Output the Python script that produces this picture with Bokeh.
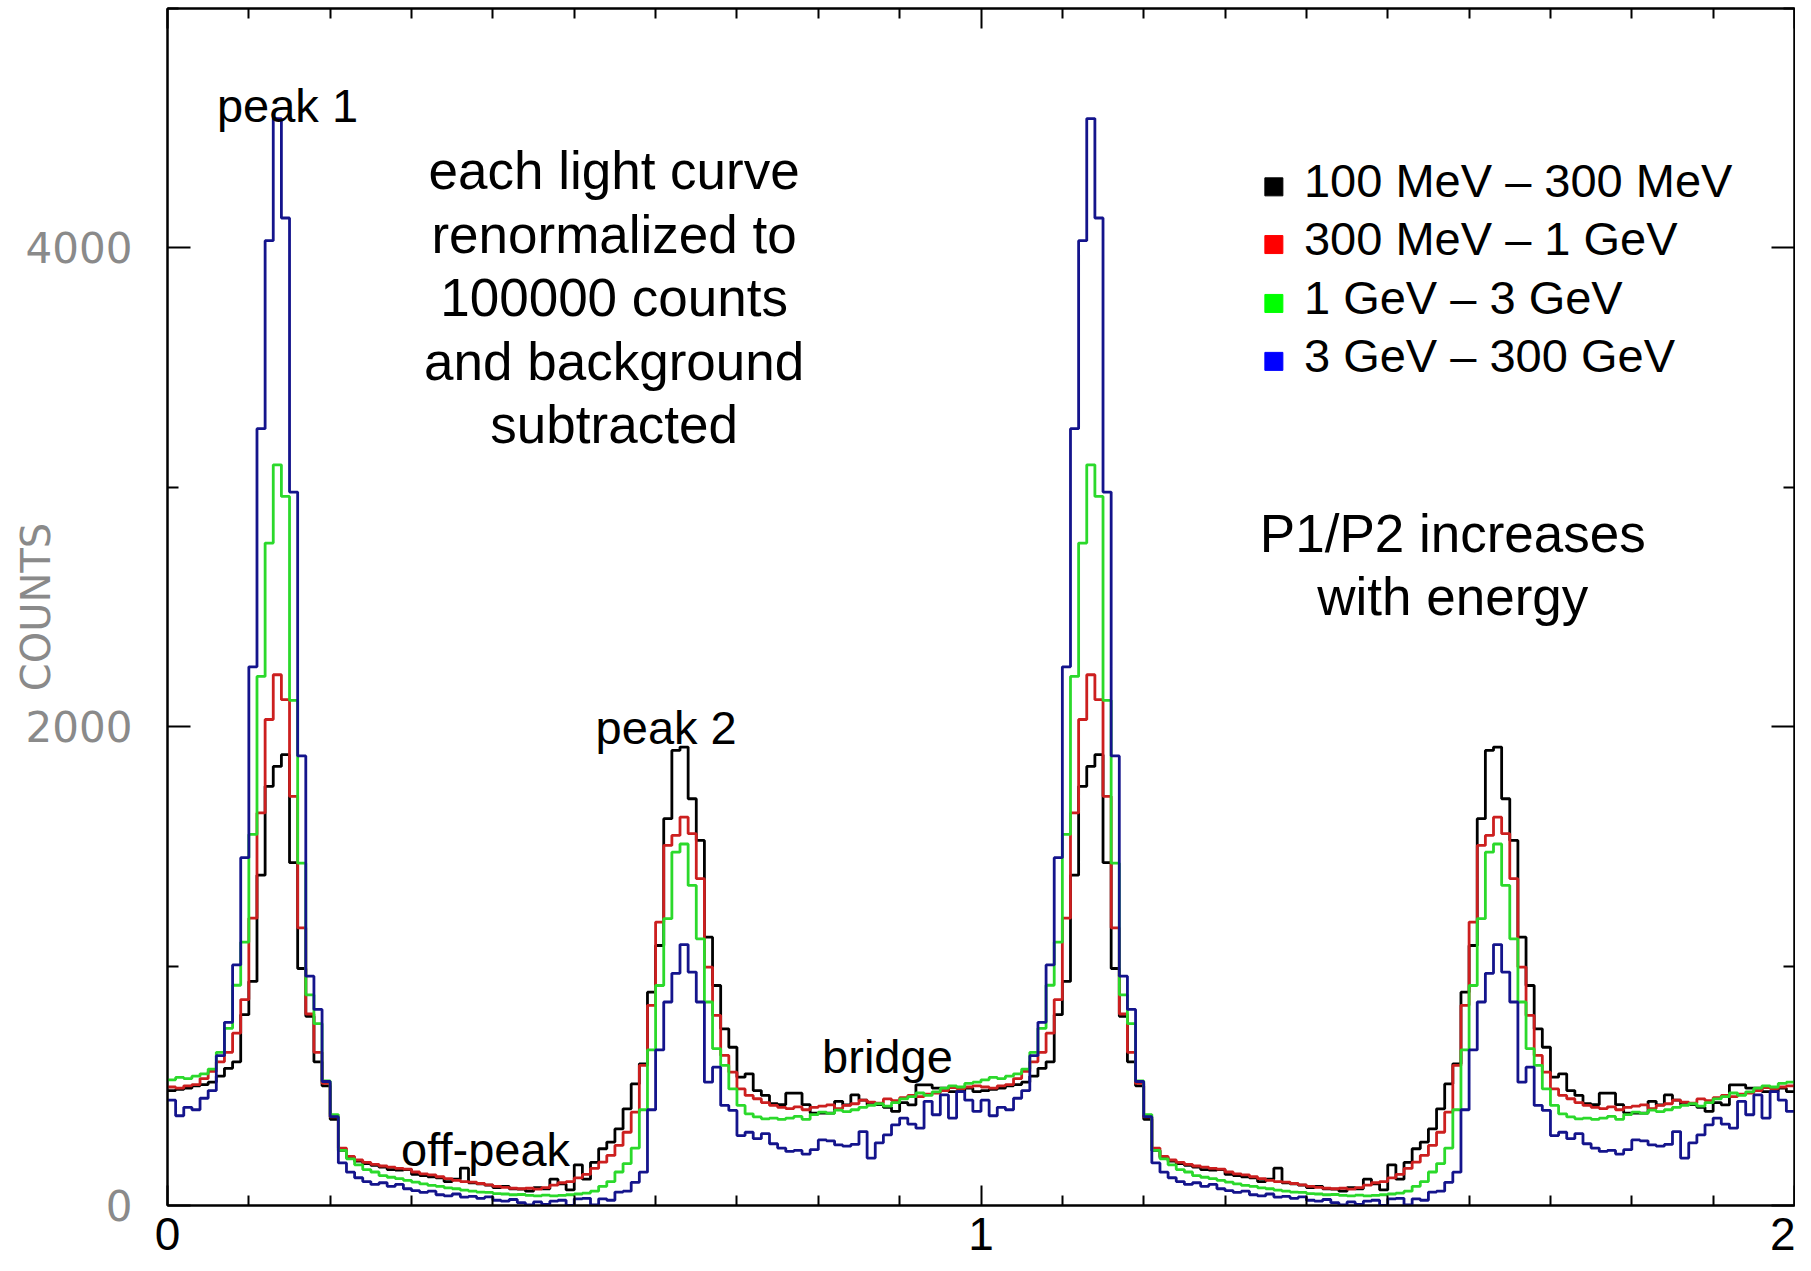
from bokeh.plotting import figure
from bokeh.models import Range1d, FixedTicker, LinearAxis, ColumnDataSource
from bokeh.core.properties import value
from bokeh.embed import file_html
from bokeh.resources import INLINE

# ---------------- data (one rotation, 100 phase bins of width 0.01) ----------------
bin_width = 0.01
n_cycles = 2

black_100MeV_300MeV = [
    480, 485, 490, 500, 505, 515, 540, 573, 600, 797,
    936, 1380, 1751, 1834, 1883, 1432, 990, 790, 600, 500,
    360, 230, 200, 185, 175, 168, 160, 150, 148, 150,
    130, 125, 120, 115, 100, 110, 156, 95, 90, 85,
    75, 80, 70, 68, 60, 75, 70, 110, 90, 65,
    170, 110, 180, 237, 265, 320, 404, 508, 592, 891,
    1086, 1616, 1901, 1915, 1699, 1525, 1121, 919, 738, 661,
    536, 550, 480, 460, 425, 421, 469, 469, 421, 386,
    386, 386, 435, 420, 462, 440, 421, 421, 410, 393,
    430, 420, 504, 504, 490, 490, 476, 476, 490, 476,
]
red_300MeV_1GeV = [
    495, 490, 500, 505, 530, 560, 600, 640, 720, 860,
    1200, 1640, 2030, 2217, 2113, 1709, 1160, 800, 640, 510,
    370, 240, 205, 190, 180, 172, 165, 160, 155, 152,
    140, 132, 128, 120, 112, 105, 100, 98, 92, 86,
    80, 76, 72, 70, 72, 68, 75, 85, 95, 100,
    115, 130, 155, 181, 209, 251, 306, 390, 585, 836,
    1184, 1504, 1546, 1622, 1553, 1365, 996, 794, 627, 557,
    487, 460, 446, 430, 418, 410, 405, 412, 400, 410,
    415, 420, 405, 418, 425, 440, 432, 428, 445, 438,
    450, 460, 455, 465, 470, 480, 492, 488, 495, 500,
]
green_1GeV_3GeV = [
    525, 535, 530, 540, 550, 570, 640, 740, 920, 1100,
    1550, 2210, 2767, 3094, 2962, 2110, 1430, 880, 760, 520,
    380, 230, 195, 170, 150, 140, 125, 118, 112, 105,
    98, 90, 84, 80, 74, 70, 64, 60, 56, 55,
    50, 48, 45, 46, 42, 40, 43, 40, 42, 45,
    48, 52, 60, 80, 100, 140, 175, 240, 400, 650,
    919, 1198, 1476, 1510, 1337, 1114, 850, 655, 585, 487,
    418, 383, 370, 362, 365, 360, 365, 372, 360, 380,
    390, 385, 398, 392, 400, 410, 418, 425, 415, 430,
    445, 455, 470, 460, 475, 490, 500, 495, 510, 515,
]
blue_3GeV_300GeV = [
    440, 375, 410, 400, 448, 480, 626, 765, 1005, 1453,
    2250, 3245, 4030, 4540, 4125, 2980, 1878, 958, 819, 518,
    371, 178, 139, 116, 100, 88, 95, 80, 88, 70,
    62, 55, 60, 45, 40, 48, 35, 38, 30, 36,
    22, 18, 25, 12, 2, 15, 5, 18, 22, 0,
    28, 30, 3, 28, 22, 56, 60, 97, 139, 400,
    650, 850, 970, 1090, 975, 850, 515, 578, 418, 397,
    292, 306, 279, 300, 258, 240, 226, 230, 215, 233,
    274, 270, 253, 248, 255, 309, 198, 262, 295, 337,
    365, 340, 323, 435, 379, 462, 365, 476, 440, 393,
]

band_labels = ["100 MeV \u2013 300 MeV", "300 MeV \u2013 1 GeV",
               "1 GeV \u2013 3 GeV", "3 GeV \u2013 300 GeV"]
series = [black_100MeV_300MeV, red_300MeV_1GeV, green_1GeV_3GeV, blue_3GeV_300GeV]

x_major_ticks = [0, 1, 2]
x_minor_ticks = [0.1, 0.2, 0.3, 0.4, 0.5, 0.6, 0.7, 0.8, 0.9,
                 1.1, 1.2, 1.3, 1.4, 1.5, 1.6, 1.7, 1.8, 1.9]
y_major_ticks = [0, 2000, 4000]
y_minor_ticks = [1000, 3000, 5000]

note_lines = ["each light curve", "renormalized to", "100000 counts",
              "and background", "subtracted"]
ratio_lines = ["P1/P2 increases", "with energy"]
region_labels = ["peak 1", "peak 2", "off-peak", "bridge"]

# ---------------- styling / layout ----------------
line_colors = ["#000000", "#cc1f1f", "#2bd92b", "#14148c"]
legend_colors = ["#000000", "#ff0000", "#00ff00", "#0000ff"]
FONT = value("Liberation Sans")

p = figure(width=1795, height=1269, output_backend="svg", toolbar_location=None,
           x_range=Range1d(0, 2), y_range=Range1d(0, 5000),
           min_border_left=167, min_border_right=1, min_border_top=8,
           min_border_bottom=64, background_fill_color="white",
           border_fill_color="white")
p.grid.visible = False
p.outline_line_color = "black"
p.outline_line_width = 2

xt = FixedTicker(ticks=x_major_ticks, minor_ticks=x_minor_ticks)
yt = FixedTicker(ticks=y_major_ticks, minor_ticks=y_minor_ticks)


def style_axis(ax, ticker, major_in, minor_in):
    ax.ticker = ticker
    ax.axis_line_color = "black"
    ax.axis_line_width = 2
    ax.major_tick_in = major_in
    ax.major_tick_out = 0
    ax.minor_tick_in = minor_in
    ax.minor_tick_out = 0
    ax.major_tick_line_color = "black"
    ax.minor_tick_line_color = "black"
    ax.major_tick_line_width = 2
    ax.minor_tick_line_width = 2


def hide_labels(ax, ticks):
    ax.major_label_overrides = {t: "" for t in ticks}
    ax.major_label_text_font_size = "1px"
    ax.major_label_standoff = 0


xa = p.xaxis[0]
style_axis(xa, xt, 20, 10)
xa.major_label_text_font = "Liberation Sans"
xa.major_label_text_font_size = "46px"
xa.major_label_text_color = "black"
xa.major_label_standoff = 12

ya = p.yaxis[0]
style_axis(ya, yt, 23, 11)
ya.major_label_text_font = "DejaVu Sans"
ya.major_label_text_font_size = "42px"
ya.major_label_text_color = "#8a8a8a"
ya.major_label_standoff = 35
ya.axis_label = "COUNTS"
ya.axis_label_text_font = "DejaVu Sans"
ya.axis_label_text_font_size = "40px"
ya.axis_label_text_font_style = "normal"
ya.axis_label_text_color = "#8a8a8a"
ya.axis_label_standoff = -36

top = LinearAxis()
style_axis(top, xt, 20, 10)
hide_labels(top, x_major_ticks)
p.add_layout(top, "above")

right = LinearAxis()
style_axis(right, yt, 23, 11)
hide_labels(right, y_major_ticks)
p.add_layout(right, "right")

# ---------------- histograms (two rotations) ----------------
n_bins = len(black_100MeV_300MeV)
edges = [i * bin_width for i in range(n_bins * n_cycles)] + [n_bins * n_cycles * bin_width]
for vals, col in zip(series, line_colors):
    ys = vals * n_cycles + [vals[-1]]
    p.step(x=edges, y=ys, mode="after", line_color=col, line_width=2.8)

# ---------------- annotations ----------------
big = value("53px")
small = value("47px")

note_src = ColumnDataSource(dict(x=[0.549] * len(note_lines),
                                 y=[4323, 4058, 3793, 3527, 3262], t=note_lines))
p.text(x="x", y="y", text="t", source=note_src, text_font=FONT, text_font_size=big,
       text_align="center", text_baseline="middle", text_color="black")

ratio_src = ColumnDataSource(dict(x=[1.580, 1.580], y=[2808, 2543], t=ratio_lines))
p.text(x="x", y="y", text="t", source=ratio_src, text_font=FONT, text_font_size=big,
       text_align="center", text_baseline="middle", text_color="black")

reg_src = ColumnDataSource(dict(x=[0.1475, 0.613, 0.391, 0.885],
                                y=[4593, 1998, 236, 622], t=region_labels))
p.text(x="x", y="y", text="t", source=reg_src, text_font=FONT, text_font_size=small,
       text_align="center", text_baseline="middle", text_color="black")

leg_y = [4280, 4039, 3793, 3551]
leg_src = ColumnDataSource(dict(x=[1.397] * 4, y=leg_y, t=band_labels))
p.text(x="x", y="y", text="t", source=leg_src, text_font=FONT, text_font_size=small,
       text_align="left", text_baseline="middle", text_color="black")
sq_src = ColumnDataSource(dict(x=[1.360] * 4, y=[v - 25 for v in leg_y], c=legend_colors))
p.scatter(x="x", y="y", source=sq_src, marker="square", size=18,
          fill_color="c", line_color="c")

open("out.html", "w").write(file_html(p, INLINE))
